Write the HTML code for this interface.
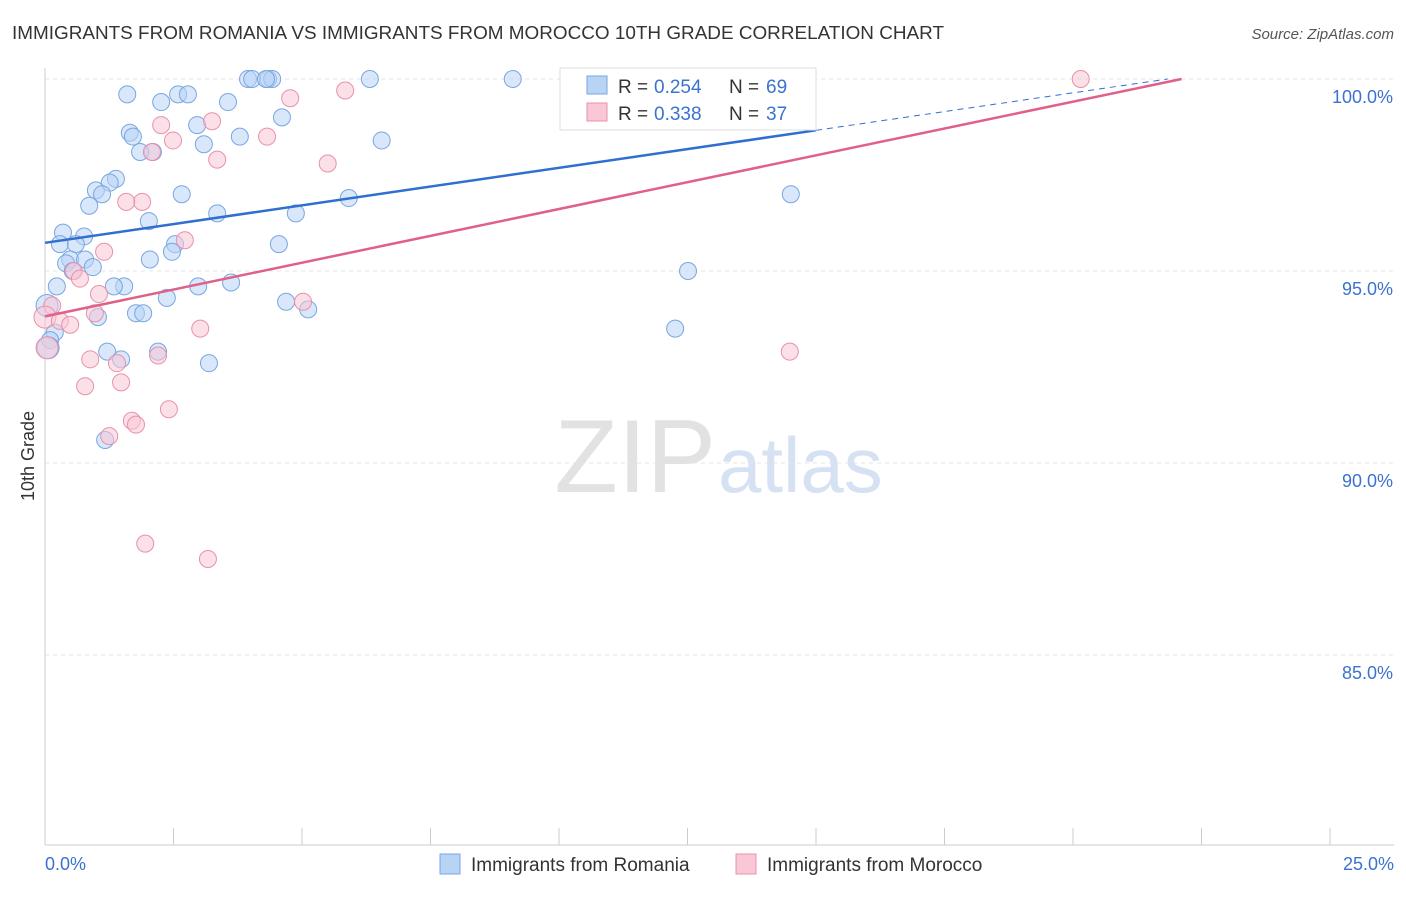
<!DOCTYPE html>
<html><head><meta charset="utf-8"><style>
body{margin:0;background:#fff;font-family:"Liberation Sans",sans-serif}
svg text{font-family:"Liberation Sans",sans-serif}
</style></head><body>
<svg id="chart" width="1406" height="892" xmlns="http://www.w3.org/2000/svg">
<text x="12" y="39" font-size="18" fill="#333" textLength="932" lengthAdjust="spacingAndGlyphs">IMMIGRANTS FROM ROMANIA VS IMMIGRANTS FROM MOROCCO 10TH GRADE CORRELATION CHART</text>
<text x="1394" y="39" font-size="15" fill="#555" text-anchor="end" font-style="italic">Source: ZipAtlas.com</text>
<text x="716" y="492" font-size="104" fill="#e2e2e2" text-anchor="end" font-family="Liberation Serif">ZIP</text>
<text x="718" y="492" font-size="78" fill="#d6e2f3">atlas</text>
<text transform="translate(34,456) rotate(-90)" font-size="18" fill="#333" text-anchor="middle">10th Grade</text>
<g id="grid"></g><g id="axes"></g><g id="pts"></g><g id="lines"></g>
<g>
<rect x="560" y="68" width="256" height="62" fill="#fff" stroke="#ddd"/>
<rect x="587" y="76" width="20" height="18" fill="#b8d4f5" stroke="#7aa6e0"/>
<text x="618" y="93" font-size="19" fill="#333">R =</text>
<text x="654" y="93" font-size="19" fill="#3b72d0">0.254</text>
<text x="729" y="93" font-size="19" fill="#333">N =</text>
<text x="766" y="93" font-size="19" fill="#3b72d0">69</text>
<rect x="587" y="103" width="20" height="18" fill="#f9c7d6" stroke="#e891ab"/>
<text x="618" y="120" font-size="19" fill="#333">R =</text>
<text x="654" y="120" font-size="19" fill="#3b72d0">0.338</text>
<text x="729" y="120" font-size="19" fill="#333">N =</text>
<text x="766" y="120" font-size="19" fill="#3b72d0">37</text>
</g>
<g>
<rect x="440" y="854" width="20" height="20" fill="#b8d4f5" stroke="#7aa6e0"/>
<text x="471" y="871" font-size="19" fill="#333">Immigrants from Romania</text>
<rect x="736" y="854" width="20" height="20" fill="#f9c7d6" stroke="#e891ab"/>
<text x="767" y="871" font-size="19" fill="#333">Immigrants from Morocco</text>
</g>
</svg>
<script>
const yTicks=[100,95,90,85];
const xTickLabels=["0.0%","25.0%"];
const romaniaX=[1.6,2.26,2.59,2.78,3.56,3.95,4.03,4.34,4.42,4.3,6.32,9.1,1.65,1.71,2.1,1.85,2.96,3.09,3.79,4.61,6.55,1.38,1.26,0.99,1.11,0.86,2.66,3.35,2.02,4.88,5.91,0.35,0.76,0.29,0.6,2.53,2.47,4.55,2.04,0.49,0.41,0.78,0.93,0.54,0.23,1.54,1.34,2.98,3.62,2.37,4.69,5.12,1.77,1.91,1.03,0.19,0.1,2.2,1.21,1.48,3.19,1.17,12.51,12.26,14.51,0.04,0.06];
const romaniaY=[99.6,99.4,99.6,99.6,99.4,100,100,100,100,100,100,100,98.6,98.5,98.1,98.1,98.8,98.3,98.5,99.0,98.4,97.4,97.3,97.1,97.0,96.7,97.0,96.5,96.3,96.5,96.9,96.0,95.9,95.7,95.7,95.7,95.5,95.7,95.3,95.3,95.2,95.3,95.1,95.0,94.6,94.6,94.6,94.6,94.7,94.3,94.2,94.0,93.9,93.9,93.8,93.4,93.2,92.9,92.9,92.7,92.6,90.6,95.0,93.5,97.0,94.1,93.0];
const moroccoX=[20.15,5.84,4.77,3.25,2.26,2.49,4.32,2.08,3.35,5.5,1.89,1.58,1.15,2.72,0.56,0.68,1.05,0.14,0,0.29,0.49,0.97,3.02,5.02,0.88,1.4,2.2,0.78,1.48,2.41,1.69,1.77,1.25,1.95,3.17,14.49,0.04];
const moroccoY=[100,99.7,99.5,98.9,98.8,98.4,98.5,98.1,97.9,97.8,96.8,96.8,95.5,95.8,95.0,94.8,94.4,94.1,93.8,93.7,93.6,93.9,93.5,94.2,92.7,92.6,92.8,92.0,92.1,91.4,91.1,91.0,90.7,87.9,87.5,92.9,93.0];
const XL=45,XR=1330,Y100=79,PX5=192;
const sx=v=>XL+v/25*(XR-XL);
const sy=v=>Y100+(100-v)/5*PX5;
const NS="http://www.w3.org/2000/svg";
function mk(g,t,a){const e=document.createElementNS(NS,t);for(const k in a)e.setAttribute(k,a[k]);document.getElementById(g).appendChild(e);return e;}
yTicks.forEach(v=>{
 const l=mk("grid","line",{x1:XL,x2:1394,y1:sy(v),y2:sy(v),stroke:"#e4e4e4","stroke-dasharray":"4,4"});
 
 
 const t=mk("grid","text",{x:1393,y:sy(v)+24,"font-size":18,fill:"#3b72d0","text-anchor":"end"});
 t.textContent=v.toFixed(1)+"%";
 
 
});
const ax=mk("axes","line",{x1:XL,x2:XL,y1:68,y2:845,stroke:"#ccc"});


const bx=mk("axes","line",{x1:XL,x2:1394,y1:845,y2:845,stroke:"#ccc"});


for(let i=0;i<=10;i++){const t=mk("axes","line",{x1:sx(i*2.5),x2:sx(i*2.5),y1:828,y2:845,stroke:"#ccc"});
 
 }
[[0,"start",45],[25,"end",1394]].forEach((d,i)=>{const t=mk("axes","text",{x:d[2],y:870,"font-size":18,fill:"#3b72d0","text-anchor":d[1]});t.textContent=xTickLabels[i];
 
 });
function dots(X,Y,f,s,n){X.forEach((x,i)=>{const c=mk("pts","circle",{cx:sx(x),cy:sy(Y[i]),r:(x<0.1?11:8.5),fill:f,"fill-opacity":0.55,stroke:s,"stroke-width":1});
 
 });}
dots(romaniaX,romaniaY,"#b8d4f5","#7aa6e0","romania-point");
dots(moroccoX,moroccoY,"#f9c7d6","#e891ab","morocco-point");
function fit(X,Y){const n=X.length;let mx=0,my=0;X.forEach((x,i)=>{mx+=x;my+=Y[i]});mx/=n;my/=n;let a=0,b=0;X.forEach((x,i)=>{a+=(x-mx)*(Y[i]-my);b+=(x-mx)*(x-mx)});const m=a/b;return[m,my-m*mx];}
const[bm,bb]=fit(romaniaX,romaniaY),[pm,pb]=fit(moroccoX,moroccoY);
const bEnd=(100-bb)/bm, pEnd=(100-pb)/pm;
let l=mk("lines","line",{x1:sx(0),y1:sy(bb),x2:sx(15),y2:sy(bb+bm*15),stroke:"#2f6fd0","stroke-width":2.5});


l=mk("lines","line",{x1:sx(15),y1:sy(bb+bm*15),x2:sx(Math.min(bEnd,25)),y2:sy(bb+bm*Math.min(bEnd,25)),stroke:"#2f6fd0","stroke-width":1,"stroke-dasharray":"6,5"});


l=mk("lines","line",{x1:sx(0),y1:sy(pb),x2:sx(Math.min(pEnd,25)),y2:sy(pb+pm*Math.min(pEnd,25)),stroke:"#e0608a","stroke-width":2.5});


</script>
</body></html>
